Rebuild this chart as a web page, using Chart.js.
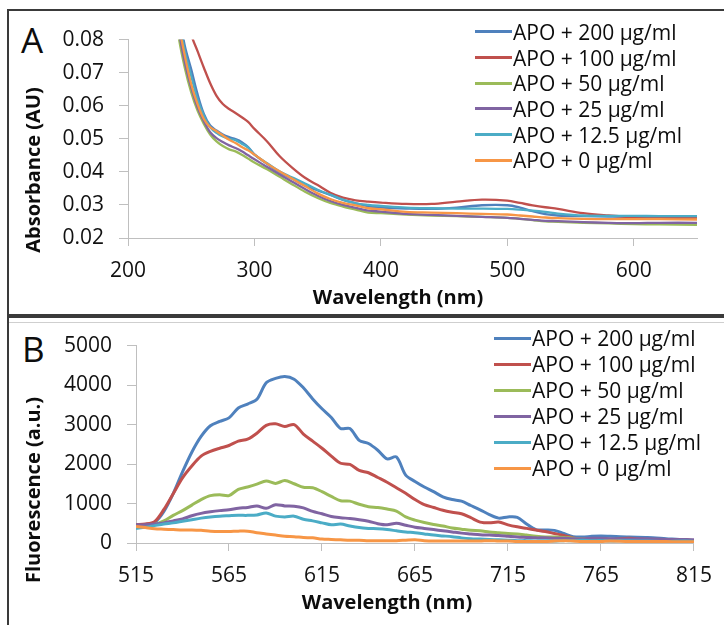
<!DOCTYPE html>
<html>
<head>
<meta charset="utf-8">
<script src="https://cdn.jsdelivr.net/npm/chart.js@4.4.0/dist/chart.umd.min.js"></script>
<style>
  body { margin: 0; background: #fff; width: 724px; height: 625px; overflow: hidden; position: relative;
         font-family: "Open Sans", sans-serif; color: #0d0d0d; }
  .box { position: absolute; border: 2px solid #3a3a3a; }
  .abs { position: absolute; white-space: nowrap; }
  .letter { font-size: 35px; line-height: 35px; }
  .title { font-weight: bold; font-size: 20px; line-height: 24px; }
  .ytitle { transform: translate(-50%, -50%) rotate(-90deg); }
  .xtitle { transform: translate(-50%, -50%); }
  .legend { position: absolute; font-size: 21px; }
  .legend .row { display: flex; align-items: center; white-space: nowrap; }
  .legend .swatch { display: inline-block; width: 37px; height: 3px; margin-right: 1px; }
  canvas { position: absolute; }
</style>
</head>
<body>

<div class="box" style="left:7px; top:9px; width:730px; height:305px;"></div>
<div class="box" style="left:7px; top:314px; width:730px; height:330px;"></div>
<div class="abs" style="left:9px; top:322px; width:720px; height:1px; background:#cfcfcf;"></div>

<div class="abs letter" style="left:21px; top:22px;">A</div>
<div class="abs letter" style="left:22px; top:331px;">B</div>

<canvas id="chartA" width="714" height="302" style="left:10px; top:12px;"></canvas>
<canvas id="chartB" width="714" height="307" style="left:10px; top:318px;"></canvas>

<div class="abs title ytitle" style="left:33px; top:170px;">Absorbance (AU)</div>
<div class="abs title xtitle" style="left:398px; top:297px;">Wavelength (nm)</div>
<div class="abs title ytitle" style="left:33px; top:490px;">Fluorescence (a.u.)</div>
<div class="abs title xtitle" style="left:387px; top:602px;">Wavelength (nm)</div>

<div class="legend" id="legendA" style="left:475px; top:19px;"></div>
<div class="legend" id="legendB" style="left:494px; top:325px;"></div>

<script>
// noms des séries et couleurs (style Excel)
const seriesNames = ["APO + 200 µg/ml", "APO + 100 µg/ml", "APO + 50 µg/ml",
                     "APO + 25 µg/ml", "APO + 12.5 µg/ml", "APO + 0 µg/ml"];
const seriesColors = ["#4F81BD", "#C0504D", "#9BBB59", "#8064A2", "#4BACC6", "#F79646"];

// ---- Panel A : absorbance ----
const wavelengthA = [235, 240, 245, 250, 255, 260, 265, 270, 275, 280, 285, 290, 295, 300,
                     310, 320, 330, 340, 350, 360, 370, 380, 390, 400, 420, 440, 460, 480,
                     500, 510, 520, 530, 540, 560, 580, 600, 620, 650];
const absA200 = [0.095, 0.088, 0.078, 0.071, 0.0635, 0.0575, 0.054, 0.0525, 0.0513, 0.0505, 0.0499, 0.049, 0.0475, 0.0453,
                 0.0424, 0.0398, 0.0379, 0.0358, 0.0344, 0.033, 0.0315, 0.0305, 0.0296, 0.0292, 0.0289, 0.0288, 0.0292, 0.0299,
                 0.0299, 0.0292, 0.0281, 0.0272, 0.0268, 0.0266, 0.0265, 0.0264, 0.0263, 0.0262];
const absA100 = [0.11, 0.10, 0.09, 0.0815, 0.0765, 0.0715, 0.0668, 0.063, 0.0605, 0.059, 0.0578, 0.0565, 0.0551, 0.053,
                 0.0492, 0.0447, 0.0412, 0.0382, 0.036, 0.0337, 0.0322, 0.0314, 0.031, 0.0307, 0.0303, 0.0303, 0.031, 0.0316,
                 0.0313, 0.0306, 0.0299, 0.0293, 0.0288, 0.0275, 0.0268, 0.0263, 0.0261, 0.026];
const absA50  = [0.095, 0.081, 0.0713, 0.064, 0.0585, 0.0545, 0.0513, 0.0492, 0.0478, 0.0468, 0.0462, 0.0452, 0.044, 0.0428,
                 0.0408, 0.0385, 0.0362, 0.034, 0.0321, 0.0306, 0.0295, 0.0286, 0.0277, 0.0275, 0.0271, 0.0268, 0.0266, 0.0264,
                 0.0261, 0.0258, 0.0254, 0.025, 0.0249, 0.0246, 0.0244, 0.0242, 0.0241, 0.024];
const absA25  = [0.096, 0.083, 0.073, 0.0655, 0.0595, 0.0553, 0.052, 0.0502, 0.049, 0.048, 0.0472, 0.0462, 0.045, 0.0438,
                 0.0415, 0.0392, 0.037, 0.0348, 0.0328, 0.0312, 0.03, 0.0291, 0.0283, 0.028, 0.0273, 0.027, 0.0267, 0.0264,
                 0.0261, 0.0258, 0.0255, 0.0252, 0.0251, 0.0248, 0.0246, 0.0245, 0.0246, 0.0246];
const absA12  = [0.097, 0.086, 0.0765, 0.069, 0.062, 0.057, 0.0535, 0.0518, 0.0507, 0.05, 0.0496, 0.0485, 0.0473, 0.0452,
                 0.0426, 0.0401, 0.0383, 0.0365, 0.0346, 0.0331, 0.0316, 0.0305, 0.03, 0.0297, 0.0292, 0.029, 0.0289, 0.0289,
                 0.0288, 0.0286, 0.0283, 0.0279, 0.0274, 0.0268, 0.0267, 0.0267, 0.0266, 0.0266];
const absA0   = [0.098, 0.085, 0.075, 0.0665, 0.0605, 0.056, 0.0535, 0.0523, 0.051, 0.0497, 0.0487, 0.0475, 0.0465, 0.0452,
                 0.0425, 0.0401, 0.0379, 0.0357, 0.0335, 0.0318, 0.0306, 0.0299, 0.029, 0.0287, 0.0279, 0.0277, 0.0275, 0.0273,
                 0.0271, 0.0268, 0.0265, 0.0262, 0.026, 0.0258, 0.0257, 0.0257, 0.0257, 0.0256];

// ---- Panel B : fluorescence ----
const wavelengthB = [515, 520, 525, 530, 535, 540, 545, 550, 555, 560, 565, 570, 575, 580, 585, 590, 595, 600,
                     605, 610, 615, 620, 625, 630, 635, 640, 645, 650, 655, 660, 665, 670, 675, 680, 685, 690,
                     695, 700, 705, 710, 715, 720, 725, 730, 735, 740, 745, 750, 755, 760, 765, 770, 780, 790,
                     800, 810, 815];
const fluoB200 = [470, 470, 520, 800, 1250, 1800, 2300, 2700, 2970, 3080, 3170, 3420, 3520, 3640, 4060, 4170, 4220, 4150,
                  3930, 3650, 3400, 3180, 2900, 2900, 2600, 2520, 2350, 2130, 2180, 1720, 1560, 1420, 1300, 1170, 1100, 1060,
                  950, 840, 720, 630, 660, 650, 480, 340, 330, 320, 240, 160, 150, 170, 180, 170, 150, 140,
                  110, 80, 50];
const fluoB100 = [470, 480, 540, 850, 1250, 1650, 1950, 2200, 2320, 2400, 2470, 2580, 2630, 2780, 2980, 3020, 2950, 3000,
                  2760, 2580, 2400, 2200, 2020, 1990, 1840, 1780, 1660, 1540, 1400, 1260, 1100, 970, 900, 830, 780, 740,
                  640, 530, 510, 530, 460, 410, 370, 330, 290, 240, 190, 130, 100, 90, 100, 90, 120, 90,
                  80, 80, 60];
const fluoB50  = [450, 440, 470, 560, 700, 820, 960, 1100, 1200, 1220, 1200, 1360, 1420, 1490, 1570, 1510, 1580, 1500,
                  1410, 1400, 1300, 1180, 1070, 1060, 980, 920, 900, 860, 810, 660, 580, 520, 470, 430, 380, 350,
                  320, 310, 280, 260, 240, 230, 200, 170, 150, 150, 140, 120, 110, 100, 100, 90, 80, 70,
                  60, 60, 60];
const fluoB25  = [460, 460, 480, 510, 560, 610, 690, 750, 790, 820, 840, 880, 900, 940, 880, 970, 940, 930,
                  890, 800, 740, 670, 640, 620, 590, 550, 490, 460, 500, 450, 400, 370, 340, 310, 280, 250,
                  230, 210, 200, 190, 170, 150, 140, 130, 130, 120, 120, 110, 110, 120, 120, 110, 100, 110,
                  90, 90, 80];
const fluoB12  = [370, 400, 440, 480, 510, 550, 590, 630, 660, 680, 690, 700, 700, 710, 760, 680, 660, 680,
                  600, 560, 510, 460, 480, 430, 390, 370, 360, 340, 310, 280, 260, 230, 200, 180, 160, 130,
                  110, 100, 90, 80, 70, 60, 60, 50, 60, 50, 60, 60, 70, 60, 60, 50, 60, 50,
                  40, 50, 40];
const fluoB0   = [420, 390, 360, 350, 340, 330, 330, 320, 300, 290, 290, 300, 300, 260, 230, 200, 170, 160,
                  140, 130, 100, 90, 80, 70, 70, 60, 60, 60, 60, 70, 80, 60, 50, 50, 50, 50,
                  50, 50, 60, 50, 50, 40, 40, 40, 40, 50, 60, 50, 40, 40, 40, 50, 40, 40,
                  40, 30, 30];

// graduations
const ticksA_x = [200, 300, 400, 500, 600];
const ticksB_x = [515, 565, 615, 665, 715, 765, 815];

const tickFont = { family: "Open Sans", size: 21 };
const tickColor = "#111";
const axisGrey = "#BFBFBF";

function buildDatasets(xs, seriesList, width, tension) {
    return seriesList.map((vals, i) => ({
        label: seriesNames[i],
        data: xs.map((x, j) => ({ x: x, y: vals[j] })),
        borderColor: seriesColors[i],
        backgroundColor: seriesColors[i],
        borderWidth: width,
        pointRadius: 0,
        tension: tension,
        fill: false,
        order: seriesList.length - i   // la dernière série dessinée au-dessus (comme Excel)
    }));
}

function drawChart(canvasId, datasets, xOpts, yOpts, yWidth, xHeight, topPad) {
    const ctx = document.getElementById(canvasId).getContext("2d");
    return new Chart(ctx, {
        type: "line",
        data: { datasets: datasets },
        options: {
            responsive: false,
            animation: false,
            layout: { padding: { top: topPad, right: 27, left: 0, bottom: 0 } },
            plugins: { legend: { display: false }, tooltip: { enabled: false } },
            scales: {
                x: Object.assign({
                    type: "linear",
                    grid: { drawOnChartArea: false, drawTicks: true, tickLength: 8, color: axisGrey },
                    border: { color: axisGrey, width: 1 },
                    afterFit: (s) => { s.height = xHeight; }
                }, xOpts),
                y: Object.assign({
                    type: "linear",
                    grid: { drawOnChartArea: false, drawTicks: true, tickLength: 9, color: axisGrey },
                    border: { color: axisGrey, width: 1 },
                    afterFit: (s) => { s.width = yWidth; }
                }, yOpts)
            }
        }
    });
}

function buildLegend(id, rowHeight) {
    const el = document.getElementById(id);
    seriesNames.forEach((name, i) => {
        const row = document.createElement("div");
        row.className = "row";
        row.style.height = rowHeight + "px";
        row.innerHTML = '<span class="swatch" style="background:' + seriesColors[i] + '"></span><span>' + name + '</span>';
        el.appendChild(row);
    });
}

// Panel A
drawChart("chartA",
    buildDatasets(wavelengthA, [absA200, absA100, absA50, absA25, absA12, absA0], 2.3, 0.35),
    {
        min: 200, max: 650,
        afterBuildTicks: (s) => { s.ticks = ticksA_x.map(v => ({ value: v })); },
        ticks: { font: tickFont, color: tickColor, padding: 12, maxRotation: 0 }
    },
    {
        min: 0.02, max: 0.08,
        ticks: { stepSize: 0.01, font: tickFont, color: tickColor, padding: 15, callback: (v) => v.toFixed(2) }
    },
    118, 76, 16);

// Panel B
drawChart("chartB",
    buildDatasets(wavelengthB, [fluoB200, fluoB100, fluoB50, fluoB25, fluoB12, fluoB0], 3, 0.3),
    {
        min: 515, max: 815,
        afterBuildTicks: (s) => { s.ticks = ticksB_x.map(v => ({ value: v })); },
        ticks: { font: tickFont, color: tickColor, padding: 12, maxRotation: 0 }
    },
    {
        min: 0, max: 5000,
        ticks: { stepSize: 1000, font: tickFont, color: tickColor, padding: 15, callback: (v) => String(v) }
    },
    126, 82, 14);

buildLegend("legendA", 25.7);
buildLegend("legendB", 26);
</script>
</body>
</html>
